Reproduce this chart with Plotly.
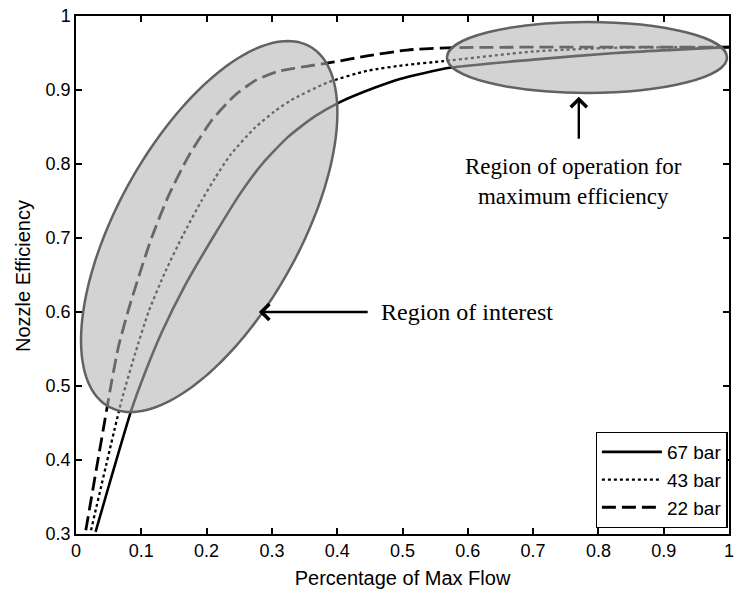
import numpy as np
import plotly.graph_objects as go

# Nozzle efficiency vs. fraction of maximum flow for three supply pressures
flow_67 = [0.030, 0.085, 0.107, 0.131, 0.167, 0.212, 0.253, 0.285, 0.324, 0.365,
           0.405, 0.457, 0.496, 0.572, 0.700, 0.826, 1.0]
eff_67 = [0.303, 0.468, 0.521, 0.572, 0.636, 0.704, 0.762, 0.800, 0.836, 0.864,
          0.884, 0.903, 0.915, 0.930, 0.941, 0.950, 0.958]

flow_43 = [0.023, 0.070, 0.091, 0.111, 0.137, 0.164, 0.192, 0.213, 0.237, 0.274,
           0.304, 0.329, 0.385, 0.446, 0.507, 0.563, 0.700, 0.822, 1.0]
eff_43 = [0.305, 0.481, 0.545, 0.600, 0.655, 0.704, 0.750, 0.781, 0.813, 0.849,
          0.871, 0.886, 0.910, 0.926, 0.934, 0.939, 0.952, 0.957, 0.958]

flow_22 = [0.015, 0.047, 0.055, 0.065, 0.081, 0.1005, 0.1157, 0.1416, 0.172, 0.207,
           0.2435, 0.275, 0.309, 0.396, 0.446, 0.507, 0.568, 1.0]
eff_22 = [0.305, 0.468, 0.508, 0.553, 0.605, 0.660, 0.700, 0.757, 0.810, 0.858,
          0.893, 0.913, 0.925, 0.938, 0.946, 0.954, 0.957, 0.958]

series_names = ["67 bar", "43 bar", "22 bar"]
x_ticks = [0, 0.1, 0.2, 0.3, 0.4, 0.5, 0.6, 0.7, 0.8, 0.9, 1.0]
x_tick_labels = ["0", "0.1", "0.2", "0.3", "0.4", "0.5", "0.6", "0.7", "0.8", "0.9", "1"]
y_ticks = [0.3, 0.4, 0.5, 0.6, 0.7, 0.8, 0.9, 1.0]
y_tick_labels = ["0.3", "0.4", "0.5", "0.6", "0.7", "0.8", "0.9", "1"]

# Highlight regions (data units)
interest_center = (0.204, 0.7155)
interest_u = (0.1544, 0.2432)     # semi-major conjugate vector
interest_v = (-0.1212, 0.0607)    # semi-minor conjugate vector
max_eff_box = (0.568, 0.997, 0.896, 0.992)  # x0, x1, y0, y1

SANS = "Liberation Sans, Arial, sans-serif"
SERIF = "Liberation Serif, Times New Roman, serif"

fig = go.Figure()
styles = [
    dict(color="black", width=2.6, dash="solid", shape="spline", smoothing=0.6),
    dict(color="black", width=2.3, dash="dot", shape="spline", smoothing=0.6),
    dict(color="black", width=2.8, dash="14px,6px", shape="spline", smoothing=0.6),
]
for i, (xs, ys) in enumerate([(flow_67, eff_67), (flow_43, eff_43), (flow_22, eff_22)]):
    fig.add_trace(go.Scatter(
        x=xs, y=ys, mode="lines", name=series_names[i],
        line=styles[i], legendgroup=series_names[i],
    ))

# Tilted ellipse around the steep low-flow part of the curves
t = np.linspace(0, 2 * np.pi, 181)
ex = interest_center[0] + interest_u[0] * np.cos(t) + interest_v[0] * np.sin(t)
ey = interest_center[1] + interest_u[1] * np.cos(t) + interest_v[1] * np.sin(t)
path = "M " + " L ".join(f"{a:.5f},{b:.5f}" for a, b in zip(ex, ey)) + " Z"

region_fill = "rgba(180,180,180,0.58)"
region_line = dict(color="#626262", width=2.5)
fig.add_shape(type="path", path=path, xref="x", yref="y",
              fillcolor=region_fill, line=region_line, layer="above")
fig.add_shape(type="circle", xref="x", yref="y",
              x0=max_eff_box[0], x1=max_eff_box[1], y0=max_eff_box[2], y1=max_eff_box[3],
              fillcolor=region_fill, line=region_line, layer="above")

# Arrows and labels
fig.add_annotation(x=0.28, y=0.6, ax=0.449, ay=0.6, xref="x", yref="y",
                   axref="x", ayref="y", text="", showarrow=True,
                   arrowhead=4, arrowsize=1.3, arrowwidth=2.4, arrowcolor="black")
fig.add_annotation(x=0.464, y=0.6, xref="x", yref="y", text="Region of interest",
                   showarrow=False, xanchor="left", yanchor="middle",
                   font=dict(family=SERIF, size=24, color="black"))
fig.add_annotation(x=0.77, y=0.891, ax=0.77, ay=0.832, xref="x", yref="y",
                   axref="x", ayref="y", text="", showarrow=True,
                   arrowhead=4, arrowsize=1.3, arrowwidth=2.4, arrowcolor="black")
fig.add_annotation(x=0.762, y=0.777, xref="x", yref="y",
                   text="Region of operation for<br>maximum efficiency",
                   showarrow=False, xanchor="center", yanchor="middle",
                   font=dict(family=SERIF, size=23, color="black"))

# Vertical axis title placed beside the tick labels
fig.add_annotation(x=0, y=0.498, xref="paper", yref="paper", xshift=-53,
                   text="Nozzle Efficiency", textangle=-90, showarrow=False,
                   xanchor="center", yanchor="middle",
                   font=dict(family=SANS, size=20, color="black"))

axis_common = dict(
    showgrid=False, zeroline=False, showline=True, linecolor="black", linewidth=1.5,
    mirror="ticks", ticks="inside", ticklen=6, tickwidth=1.5, tickcolor="black",
    tickfont=dict(family=SANS, size=18, color="black"), automargin=False,
)
fig.update_xaxes(range=[0, 1], tickvals=x_ticks, ticktext=x_tick_labels,
                 ticklabeloverflow="allow",
                 title=dict(text="Percentage of Max Flow", standoff=11,
                            font=dict(family=SANS, size=20, color="black")),
                 **axis_common)
fig.update_yaxes(range=[0.3, 1], tickvals=y_ticks, ticktext=y_tick_labels,
                 **axis_common)

fig.update_layout(
    width=735, height=591,
    margin=dict(l=76, r=6, t=16, b=57),
    paper_bgcolor="white", plot_bgcolor="white",
    showlegend=True,
    legend=dict(x=0.998, y=0.012, xanchor="right", yanchor="bottom",
                bgcolor="white", bordercolor="black", borderwidth=1.2,
                font=dict(family=SANS, size=19, color="black"),
                tracegroupgap=0, itemwidth=60),
)

fig.write_html("out.html")
